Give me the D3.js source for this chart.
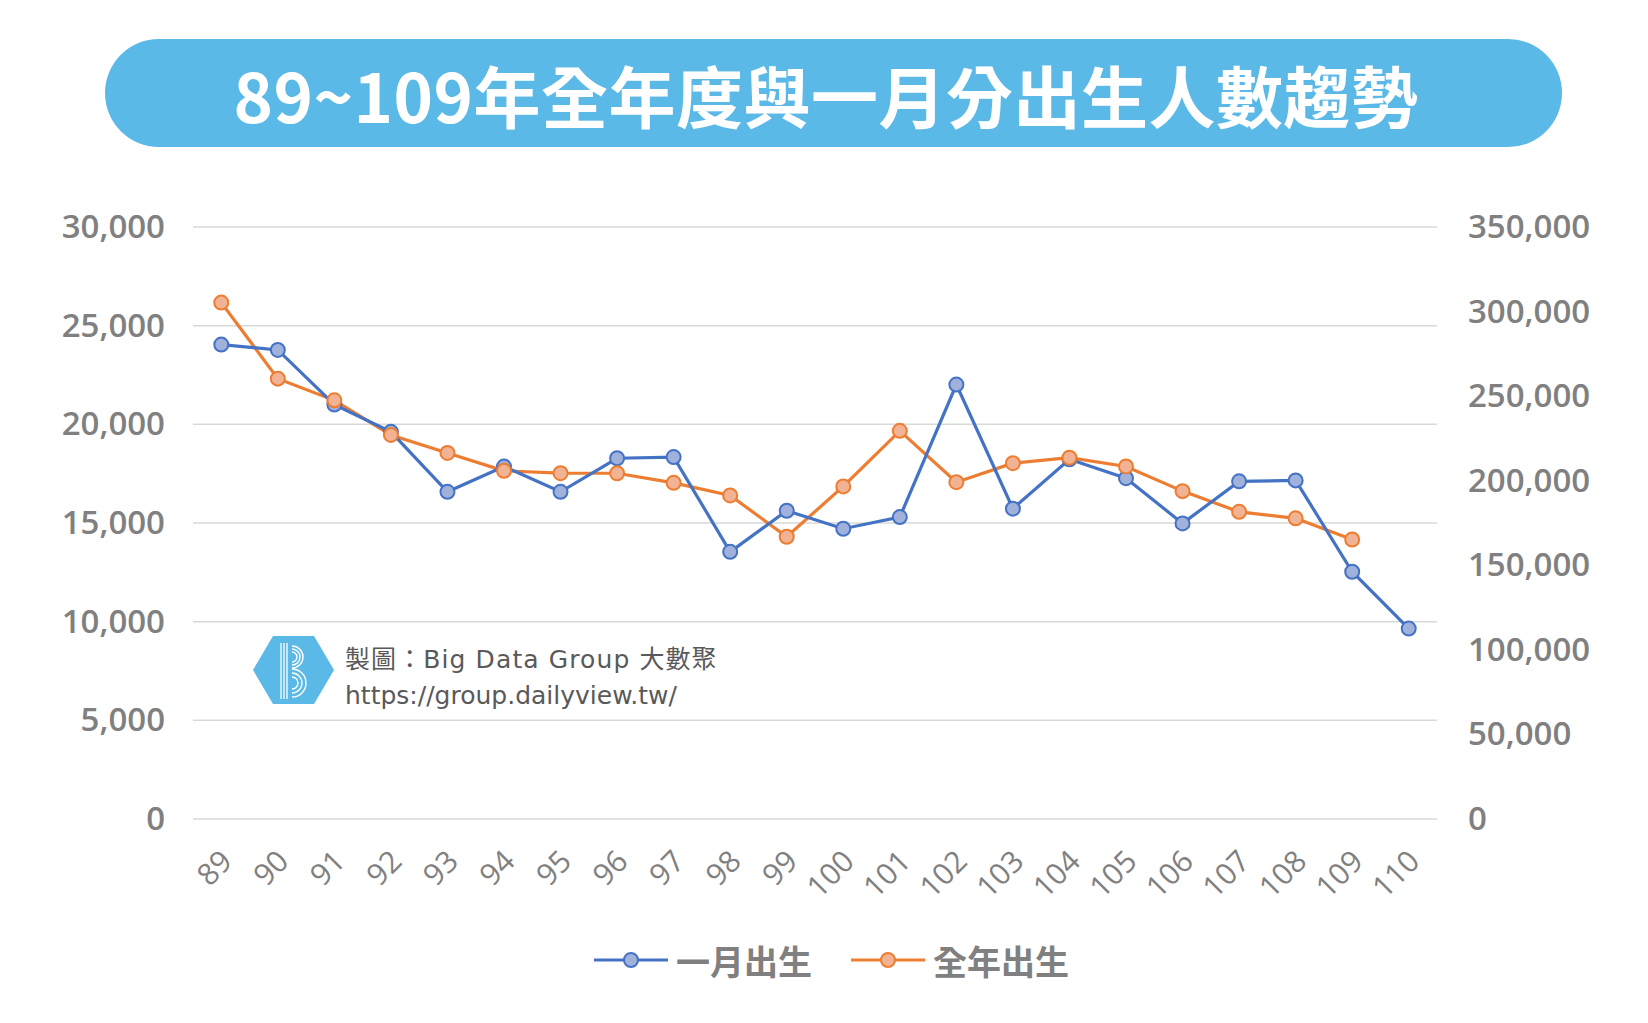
<!DOCTYPE html>
<html><head><meta charset="utf-8">
<script src="https://cdn.jsdelivr.net/npm/d3@7"></script>
<style>body{margin:0;background:#fff;}svg{display:block;}</style>
</head><body>
<svg id="chart" width="1648" height="1023"></svg>
<script>
const titleText = "89~109年全年度與一月分出生人數趨勢";
const years = ["89","90","91","92","93","94","95","96","97","98","99","100","101","102","103","104","105","106","107","108","109","110"];
const janBirths = [24040,23770,21000,19620,16580,17860,16580,18280,18340,13540,15620,14710,15300,22015,15725,18230,17270,14980,17110,17160,12530,9650];
const yearBirths = [305312,260354,247530,227070,216419,205854,204459,204414,198733,191310,166886,196627,229481,199113,210383,213598,208440,193844,181601,177767,165249,null];
const leftTicks = [0,5000,10000,15000,20000,25000,30000];
const rightTicks = [0,50000,100000,150000,200000,250000,300000,350000];
const seriesNames = ["一月出生","全年出生"];
const credit1 = "製圖：Big Data Group 大數聚";
const credit2 = "https://group.dailyview.tw/";

const svg = d3.select("#chart");
const L=193, R=1437, T=227, B=819;
const blue="#4472C4", blueFill="#A0B1DC", orange="#ED7D31", orangeFill="#F2B395";
const gray="#808080";
const cjk = "'Noto Sans CJK TC','Noto Sans',sans-serif";
const num = "'Open Sans','Noto Sans',sans-serif";

// title banner
svg.append("rect").attr("x",105).attr("y",39).attr("width",1457).attr("height",108).attr("rx",54).attr("fill","#5BB9E7");
svg.append("text").attr("x",826).attr("y",93).attr("text-anchor","middle").attr("dominant-baseline","central")
  .attr("fill","#fff").attr("font-family",cjk).attr("font-weight",700).attr("font-size",67).attr("letter-spacing",0.5)
  .text(titleText);

const x = d3.scalePoint().domain(years).range([L,R]).padding(0.5);
const yL = d3.scaleLinear().domain([0,30000]).range([B,T]);
const yR = d3.scaleLinear().domain([0,350000]).range([B,T]);

// grid
svg.append("g").selectAll("line").data(leftTicks).join("line")
  .attr("x1",L).attr("x2",R).attr("y1",d=>yL(d)).attr("y2",d=>yL(d))
  .attr("stroke","#d9d9d9").attr("stroke-width",1.5);

// left axis
const gl = svg.append("g").attr("transform",`translate(${L},0)`)
  .call(d3.axisLeft(yL).tickValues(leftTicks).tickFormat(d3.format(",")).tickSize(0).tickPadding(28));
gl.select(".domain").remove();
gl.selectAll("text").attr("fill",gray).attr("font-family",num).attr("font-weight",600).attr("font-size",33);

// right axis
const gr = svg.append("g").attr("transform",`translate(${R},0)`)
  .call(d3.axisRight(yR).tickValues(rightTicks).tickFormat(d3.format(",")).tickSize(0).tickPadding(31));
gr.select(".domain").remove();
gr.selectAll("text").attr("fill",gray).attr("font-family",num).attr("font-weight",600).attr("font-size",33);

// x axis
const gx = svg.append("g").attr("transform",`translate(0,${B})`)
  .call(d3.axisBottom(x).tickSize(0).tickPadding(0));
gx.select(".domain").remove();
gx.selectAll("text").attr("fill",gray).attr("font-family",num).attr("font-weight",400).attr("font-size",30)
  .attr("text-anchor","end").attr("dy",0).attr("dominant-baseline","central")
  .attr("transform","translate(4,36) rotate(-45)");

// credit / logo
const lg = svg.append("g");
lg.append("path").attr("d","M253,670 L273,636 L314,636 L334,670 L314,704 L273,704 Z").attr("fill","#5BB9E7");
[281,284,287].forEach(xx=>lg.append("line").attr("x1",xx).attr("x2",xx).attr("y1",643).attr("y2",699).attr("stroke","#fff").attr("stroke-width",1.3));
[[292,657,5],[292,657,8],[292,657,11],[292,683,6],[292,683,10],[292,683,14]].forEach(([cx,cy,r])=>{
  lg.append("path").attr("d",`M${cx},${cy-r} A${r},${r} 0 0 1 ${cx},${cy+r}`).attr("fill","none").attr("stroke","#fff").attr("stroke-width",1.4);
});
svg.append("text").attr("x",345).attr("y",659).attr("dominant-baseline","central").attr("fill","#595959")
  .attr("font-family","'DejaVu Sans','Noto Sans CJK TC',sans-serif").attr("font-size",25).attr("letter-spacing",1.1).text(credit1);
svg.append("text").attr("x",345).attr("y",695).attr("dominant-baseline","central").attr("fill","#595959")
  .attr("font-family","'DejaVu Sans',sans-serif").attr("font-size",25).text(credit2);

// lines
const janData = years.map((y,i)=>({y, v:janBirths[i]}));
const yearData = years.map((y,i)=>({y, v:yearBirths[i]})).filter(d=>d.v!=null);
svg.append("path").datum(yearData).attr("fill","none").attr("stroke",orange).attr("stroke-width",3.2)
  .attr("d",d3.line().x(d=>x(d.y)).y(d=>yR(d.v)));
svg.append("path").datum(janData).attr("fill","none").attr("stroke",blue).attr("stroke-width",3.2)
  .attr("d",d3.line().x(d=>x(d.y)).y(d=>yL(d.v)));
svg.append("g").selectAll("circle").data(janData).join("circle")
  .attr("cx",d=>x(d.y)).attr("cy",d=>yL(d.v)).attr("r",7).attr("fill",blueFill).attr("stroke",blue).attr("stroke-width",2);
svg.append("g").selectAll("circle").data(yearData).join("circle")
  .attr("cx",d=>x(d.y)).attr("cy",d=>yR(d.v)).attr("r",7).attr("fill",orangeFill).attr("stroke",orange).attr("stroke-width",2);

// legend
const legend = [{name:seriesNames[0],c:blue,f:blueFill,x0:594},{name:seriesNames[1],c:orange,f:orangeFill,x0:851}];
const ly=960;
legend.forEach(l=>{
  svg.append("line").attr("x1",l.x0).attr("x2",l.x0+74).attr("y1",ly).attr("y2",ly).attr("stroke",l.c).attr("stroke-width",3.2);
  svg.append("circle").attr("cx",l.x0+37).attr("cy",ly).attr("r",7).attr("fill",l.f).attr("stroke",l.c).attr("stroke-width",2);
  svg.append("text").attr("x",l.x0+82).attr("y",ly).attr("dominant-baseline","central").attr("fill",gray)
    .attr("font-family",cjk).attr("font-weight",700).attr("font-size",34).text(l.name);
});
</script>
</body></html>
